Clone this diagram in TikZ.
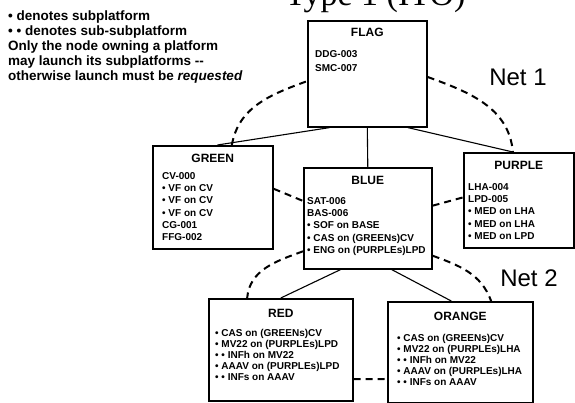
\documentclass[tikz,border=0pt]{standalone}
\usepackage{fontspec}
\setmainfont{Liberation Sans}
\newfontfamily\serifhead{Liberation Serif}
\usepackage{tikz}
\usetikzlibrary{positioning, calc}

\begin{document}
\begin{tikzpicture}[x=1pt, y=-1pt,
	unit/.style={draw, line width=1.6pt, anchor=north west, inner sep=0pt},
	unitname/.style={font=\bfseries\fontsize{12}{14}\selectfont, inner sep=0pt},
	unitlist/.style={font=\bfseries\fontsize{10}{12.3}\selectfont, align=left, anchor=north west, inner sep=0pt},
	link/.style={line width=1.1pt},
	net/.style={line width=2pt, dash pattern=on 7pt off 5pt},
	netname/.style={font=\fontsize{24}{28}\selectfont, inner sep=0pt}]
	\useasboundingbox (0,0) rectangle (575,403);
	\node[anchor=base west, inner sep=0pt, font=\serifhead\fontsize{34}{34}\selectfont] (heading) at (285,6) {Type 1 (ITO)};
	\node[anchor=north west, align=left, inner sep=0pt, font=\bfseries\fontsize{13.5}{15}\selectfont] (legend) at (8,11)
		{• denotes subplatform\\• • denotes sub-subplatform\\Only the node owning a platform\\may launch its subplatforms -{}-\\otherwise launch must be \textit{requested}};
	\node[unit, minimum width=119pt, minimum height=106pt] (flag) at (307,20) {};
	\node[unitname, below=8pt of flag.north] (flagname) {FLAG};
	\node[unitlist, font=\bfseries\fontsize{10}{14}\selectfont, below right=30pt and 8pt of flag.north west] (flaglist) {DDG-003\\SMC-007};
	\node[unit, minimum width=120pt, minimum height=103pt] (green) at (152,145) {};
	\node[unitname, below=9pt of green.north] (greenname) {GREEN};
	\node[unitlist, below right=27pt and 10pt of green.north west] (greenlist)
		{CV-000\\• VF on CV\\• VF on CV\\• VF on CV\\CG-001\\FFG-002};
	\node[unit, minimum width=128pt, minimum height=101pt] (blue) at (303,167) {};
	\node[unitname, below=9pt of blue.north] (bluename) {BLUE};
	\node[unitlist, below right=30pt and 4pt of blue.north west] (bluelist)
		{SAT-006\\BAS-006\\• SOF on BASE\\• CAS on (GREENs)CV\\• ENG on (PURPLEs)LPD};
	\node[unit, minimum width=110pt, minimum height=95pt] (purple) at (463,152) {};
	\node[unitname, below=9pt of purple.north] (purplename) {PURPLE};
	\node[unitlist, below right=31pt and 5pt of purple.north west] (purplelist)
		{LHA-004\\LPD-005\\• MED on LHA\\• MED on LHA\\• MED on LPD};
	\node[unit, minimum width=144pt, minimum height=102pt] (red) at (208,298) {};
	\node[unitname, below=11pt of red.north] (redname) {RED};
	\node[unitlist, font=\bfseries\fontsize{10}{11}\selectfont, below right=31pt and 7pt of red.north west] (redlist)
		{• CAS on (GREENs)CV\\• MV22 on (PURPLEs)LPD\\• • INFh on MV22\\• AAAV on (PURPLEs)LPD\\• • INFs on AAAV};
	\node[unit, minimum width=145pt, minimum height=101pt] (orange) at (387,301) {};
	\node[unitname, below=11pt of orange.north] (orangename) {ORANGE};
	\node[unitlist, font=\bfseries\fontsize{10}{11}\selectfont, below right=33pt and 10pt of orange.north west] (orangelist)
		{• CAS on (GREENs)CV\\• MV22 on (PURPLEs)LHA\\• • INFh on MV22\\• AAAV on (PURPLEs)LHA\\• • INFs on AAAV};
	\draw[link] (flag.235) -- (green.85);
	\draw[link] (flag.south) -- (blue.north);
	\draw[link] (flag.-53) -- (purple.97);
	\draw[link] (blue.242) -- (red.north);
	\draw[link] (blue.-65) -- (orange.100);
	\draw[net] (green.70) to[out=80, in=200] (flag.187);
	\draw[net] (flag.-3) to[out=-20, in=95] (purple.97);
	\draw[net] (green.8) -- (blue.165);
	\draw[net] (blue.11) -- (purple.177);
	\draw[net] (blue.207) to[out=200, in=85] (red.123);
	\draw[net] (blue.-30) to[out=-20, in=110] (orange.59);
	\draw[net] (red.-22) -- (orange.200);
	\node[netname] (net1) at (518,77) {Net 1};
	\node[netname] (net2) at (529,278) {Net 2};
\end{tikzpicture}
\end{document}
